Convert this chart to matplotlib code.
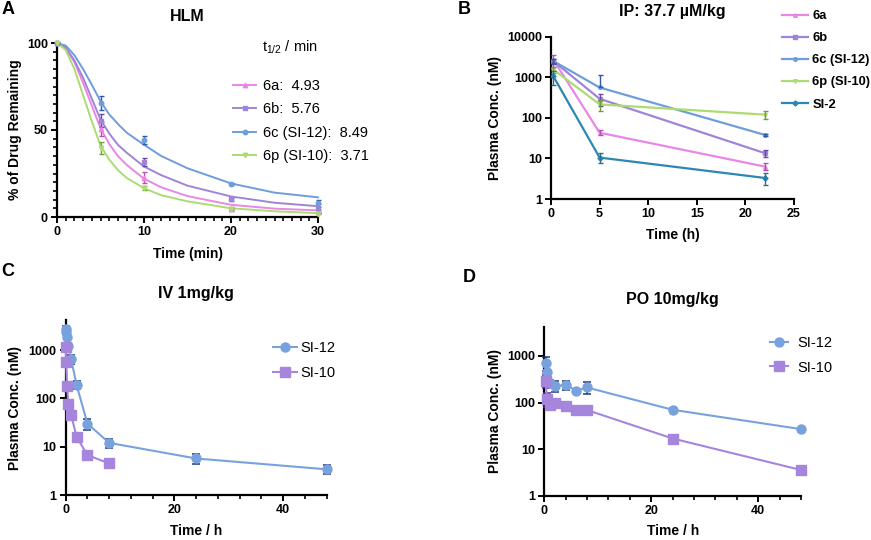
import matplotlib
matplotlib.use('Agg')
import matplotlib.pyplot as plt
import numpy as np
from matplotlib.lines import Line2D
from matplotlib.ticker import MultipleLocator, FixedLocator, NullLocator

plt.rcParams['font.family'] = ['Liberation Sans', 'DejaVu Sans']
plt.rcParams['font.weight'] = 'bold'
plt.rcParams['mathtext.fontset'] = 'custom'
plt.rcParams['mathtext.rm'] = 'Liberation Sans'

W, H = 871, 540

# ---- panel A: HLM stability ----
hlm_t = [0, 5, 10, 20, 30]
hlm_6a = [100, 50.5, 22.7, 4.6, 3.0]
hlm_6a_err = [0, 4.0, 3.3, 0.8, 0.8]
hlm_6b = [100, 55.4, 31.5, 10.2, 5.2]
hlm_6b_err = [0, 3.8, 2.4, 0.8, 2.5]
hlm_6c = [100, 65.5, 44.2, 19.0, 7.8]
hlm_6c_err = [0, 4.0, 2.2, 0.6, 2.0]
hlm_6p = [100, 39.6, 16.7, 4.6, 2.0]
hlm_6p_err = [0, 3.4, 1.0, 1.0, 0.5]

# fitted decay curves
fit_t = [0, 1, 2, 3, 4, 5, 6, 7, 8, 10, 12, 15, 20, 25, 30]
fit_6a = [100, 97, 89, 77, 64, 51, 42, 35, 30, 22, 17, 12, 7, 4.8, 3.8]
fit_6b = [100, 97.5, 90, 80, 68, 56, 48, 41.5, 37, 29, 24, 18, 11.8, 8.2, 6.2]
fit_6c = [100, 98.5, 93, 85, 76, 66.5, 59, 53.5, 48.5, 41.5, 35, 28, 19.3, 14, 11.3]
fit_6p = [100, 96, 85, 70, 55, 41, 33, 27, 22.5, 16.5, 12.5, 9, 5, 3.3, 2.2]
hlm_labels = ['6a:  4.93', '6b:  5.76', '6c (SI-12):  8.49', '6p (SI-10):  3.71']

# ---- panel B: IP 37.7 uM/kg ----
ip_t = [0.25, 5, 22]
ip_6a = [2700, 43, 6.3]
ip_6a_err = [900, 6, 1.2]
ip_6b = [2500, 295, 13.5]
ip_6b_err = [400, 95, 2.7]
ip_6c = [2500, 560, 38]
ip_6c_err = [250, 590, 2]
ip_6p = [1550, 215, 120]
ip_6p_err = [250, 65, 25]
ip_si2 = [1050, 10.5, 3.3]
ip_si2_err = [400, 3, 1.1]
ip_labels = ['6a', '6b', '6c (SI-12)', '6p (SI-10)', 'SI-2']

# ---- panel C: IV 1 mg/kg ----
iv_t12 = [0.033, 0.083, 0.25, 0.5, 1, 2, 4, 8, 24, 48]
iv_si12 = [2800, 2400, 1900, 1200, 650, 190, 30, 12, 5.7, 3.4]
iv_si12_err = [300, 250, 200, 150, 130, 35, 8, 2.5, 1.3, 0.7]
iv_t10 = [0.033, 0.083, 0.25, 0.5, 1, 2, 4, 8]
iv_si10 = [1150, 580, 180, 76, 45, 16, 6.7, 4.5]
iv_si10_err = [100, 60, 20, 8, 6, 1.5, 0.8, 0.3]

# ---- panel D: PO 10 mg/kg ----
po_t = [0.25, 0.5, 1, 2, 4, 6, 8, 24, 48]
po_si12 = [700, 440, 260, 225, 240, 180, 210, 70, 27]
po_si12_err = [230, 60, 50, 60, 50, 10, 60, 5, 2]
po_si10 = [290, 120, 88, 97, 85, 68, 69, 17, 3.6]
po_si10_err = [90, 40, 15, 10, 8, 5, 6, 1, 0.3]

PINK, PINK_D = '#e987e6', '#b94fb5'
PURP, PURP_D = '#a084d8', '#6a48a8'
BLUE, BLUE_D = '#6f9ddb', '#2c5aa6'
GREEN, GREEN_D = '#addb72', '#6f9f3a'
TEAL, TEAL_D = '#2a88b2', '#2a6f8f'
SI12, SI12_D = '#78a2de', '#1f3577'
SI10, SI10_D = '#a685dc', '#4d2d85'

fig = plt.figure(figsize=(W / 100, H / 100), dpi=100)


def add_axes(left, top, right, bottom):
    return fig.add_axes([left / W, 1 - bottom / H, (right - left) / W, (bottom - top) / H])


def style(ax):
    for s in ['top', 'right']:
        ax.spines[s].set_visible(False)
    for s in ['left', 'bottom']:
        ax.spines[s].set_linewidth(1.6)
        ax.spines[s].set_zorder(2)
    ax.tick_params(which='major', length=4.5, width=1.4, labelsize=9, pad=2)
    ax.tick_params(which='minor', length=2.8, width=1.2)


def labels(ax, title, ty, xl, xpos, yl, ypos):
    ax.set_title(title, fontsize=11.5, fontweight='bold', y=ty, va='center', pad=0)
    ax.set_xlabel(xl, fontsize=10, fontweight='bold')
    ax.xaxis.set_label_coords(xpos[0] / W, 1 - xpos[1] / H, transform=fig.transFigure)
    ax.xaxis.label.set_va('center')
    ax.set_ylabel(yl, fontsize=10, fontweight='bold')
    ax.yaxis.set_label_coords(ypos[0] / W, 1 - ypos[1] / H, transform=fig.transFigure)
    ax.yaxis.label.set_rotation_mode('default')
    ax.yaxis.label.set_ha('center')
    ax.yaxis.label.set_va('center')


def low_err(y, e):
    y = np.asarray(y, float)
    e = np.asarray(e, float)
    return [np.where(e >= y, 0, e), e]


# ---------------- A ----------------
axA = add_axes(57, 43, 318, 217)
style(axA)
hlm_sets = [(hlm_6a, hlm_6a_err, fit_6a, PINK, PINK_D, '^'),
            (hlm_6b, hlm_6b_err, fit_6b, PURP, PURP_D, 's'),
            (hlm_6c, hlm_6c_err, fit_6c, BLUE, BLUE_D, 'o'),
            (hlm_6p, hlm_6p_err, fit_6p, GREEN, GREEN_D, 'v')]
handles = []
for vals, err, fit, c, cd, m in hlm_sets:
    axA.plot(fit_t, fit, color=c, lw=1.4, zorder=3, clip_on=False)
    axA.errorbar(hlm_t, vals, yerr=err, fmt=m, ms=3.2, color=c, ecolor=cd,
                 elinewidth=1.0, capsize=1.8, capthick=1.0, zorder=4, clip_on=False)
    handles.append(Line2D([], [], color=c, lw=1.4, marker=m, ms=3.2))
axA.set_xlim(0, 30)
axA.set_ylim(0, 100)
axA.xaxis.set_major_locator(MultipleLocator(10))
axA.xaxis.set_minor_locator(MultipleLocator(1))
axA.yaxis.set_major_locator(MultipleLocator(50))
axA.yaxis.set_minor_locator(MultipleLocator(5))
labels(axA, 'HLM', 1.155, 'Time (min)', (187.5, 254), '% of Drug Remaining', (15, 130))
axA.legend(handles, hlm_labels, loc='upper left', bbox_to_anchor=(233 / W, 1 - 79 / H),
           bbox_transform=fig.transFigure, frameon=False,
           prop={'size': 10.5, 'weight': 'normal'}, handlelength=1.6,
           handletextpad=0.45, labelspacing=0.64, borderpad=0, borderaxespad=0)
fig.text(262 / W, 1 - 47 / H, r'$\mathregular{t_{1/2}}$ / min', fontsize=10.5,
         fontweight='normal', ha='left', va='center')

# ---------------- B ----------------
axB = add_axes(551, 36.7, 794, 199)
style(axB)
ip_sets = [(ip_6a, ip_6a_err, PINK, PINK_D, '^'),
           (ip_6b, ip_6b_err, PURP, PURP_D, 's'),
           (ip_6c, ip_6c_err, BLUE, BLUE_D, 'o'),
           (ip_6p, ip_6p_err, GREEN, GREEN_D, 'v'),
           (ip_si2, ip_si2_err, TEAL, TEAL_D, 'D')]
for (vals, err, c, cd, m), lab in zip(ip_sets, ip_labels):
    axB.plot(ip_t, vals, color=c, lw=1.6, marker=m, ms=2.6, label=lab, zorder=3)
    axB.errorbar(ip_t, vals, yerr=low_err(vals, err), fmt='none', ecolor=cd,
                 elinewidth=1.0, capsize=1.8, capthick=1.0, zorder=4)
axB.set_yscale('log')
axB.set_xlim(0, 25)
axB.set_ylim(1, 10000)
axB.xaxis.set_major_locator(MultipleLocator(5))
axB.yaxis.set_major_locator(FixedLocator([1, 10, 100, 1000, 10000]))
axB.yaxis.set_minor_locator(NullLocator())
axB.set_yticklabels(['1', '10', '100', '1000', '10000'])
labels(axB, 'IP: 37.7 µM/kg', 1.158, 'Time (h)', (672.5, 235), 'Plasma Conc. (nM)', (495, 118))
axB.legend(loc='upper left', bbox_to_anchor=(782 / W, 1 - 10 / H),
           bbox_transform=fig.transFigure, frameon=False,
           prop={'size': 9.3, 'weight': 'bold'}, handlelength=2.0,
           handletextpad=0.35, labelspacing=0.78, borderpad=0, borderaxespad=0)


# ---------------- C and D ----------------
def pk_panel(ax, t12, v12, e12, t10, v10, e10):
    style(ax)
    ax.plot(t12, v12, color=SI12, lw=1.5, marker='o', ms=6.5, label='SI-12',
            zorder=5, clip_on=False)
    ax.errorbar(t12, v12, yerr=low_err(v12, e12), fmt='none', ecolor=SI12_D,
                elinewidth=1.1, capsize=3, capthick=1.1, zorder=4, clip_on=False)
    ax.plot(t10, v10, color=SI10, lw=1.5, marker='s', ms=6.5, label='SI-10',
            zorder=5, clip_on=False)
    ax.errorbar(t10, v10, yerr=low_err(v10, e10), fmt='none', ecolor=SI10_D,
                elinewidth=1.1, capsize=3, capthick=1.1, zorder=4, clip_on=False)
    ax.set_yscale('log')
    ax.set_xlim(0, 48)
    ax.set_ylim(1, 4200)
    ax.xaxis.set_major_locator(MultipleLocator(20))
    ax.xaxis.set_minor_locator(MultipleLocator(4))
    ax.yaxis.set_major_locator(FixedLocator([1, 10, 100, 1000]))
    ax.yaxis.set_minor_locator(NullLocator())
    ax.set_yticklabels(['1', '10', '100', '1000'])


axC = add_axes(65.7, 320, 326.7, 495)
pk_panel(axC, iv_t12, iv_si12, iv_si12_err, iv_t10, iv_si10, iv_si10_err)
labels(axC, 'IV 1mg/kg', 1.153, 'Time / h', (196, 531), 'Plasma Conc. (nM)', (15, 408))
axC.legend(loc='upper left', bbox_to_anchor=(273 / W, 1 - 341 / H),
           bbox_transform=fig.transFigure, frameon=False,
           prop={'size': 10.5, 'weight': 'normal'}, handlelength=1.65,
           handletextpad=0.25, labelspacing=0.78, borderpad=0, borderaxespad=0)

axD = add_axes(544.3, 326.7, 801, 496)
pk_panel(axD, po_t, po_si12, po_si12_err, po_t, po_si10, po_si10_err)
labels(axD, 'PO 10mg/kg', 1.158, 'Time / h', (672.7, 531), 'Plasma Conc. (nM)', (495, 411))
axD.legend(loc='upper left', bbox_to_anchor=(770 / W, 1 - 336 / H),
           bbox_transform=fig.transFigure, frameon=False,
           prop={'size': 10.5, 'weight': 'normal'}, handlelength=1.25,
           handletextpad=0.65, labelspacing=0.72, borderpad=0, borderaxespad=0)

for letter, (x, y) in zip('ABCD', [(8.5, 9), (464, 10), (8, 272), (469, 277)]):
    fig.text(x / W, 1 - y / H, letter, fontsize=13, fontweight='bold', ha='center', va='center')

fig.savefig('out.png', dpi=100)
